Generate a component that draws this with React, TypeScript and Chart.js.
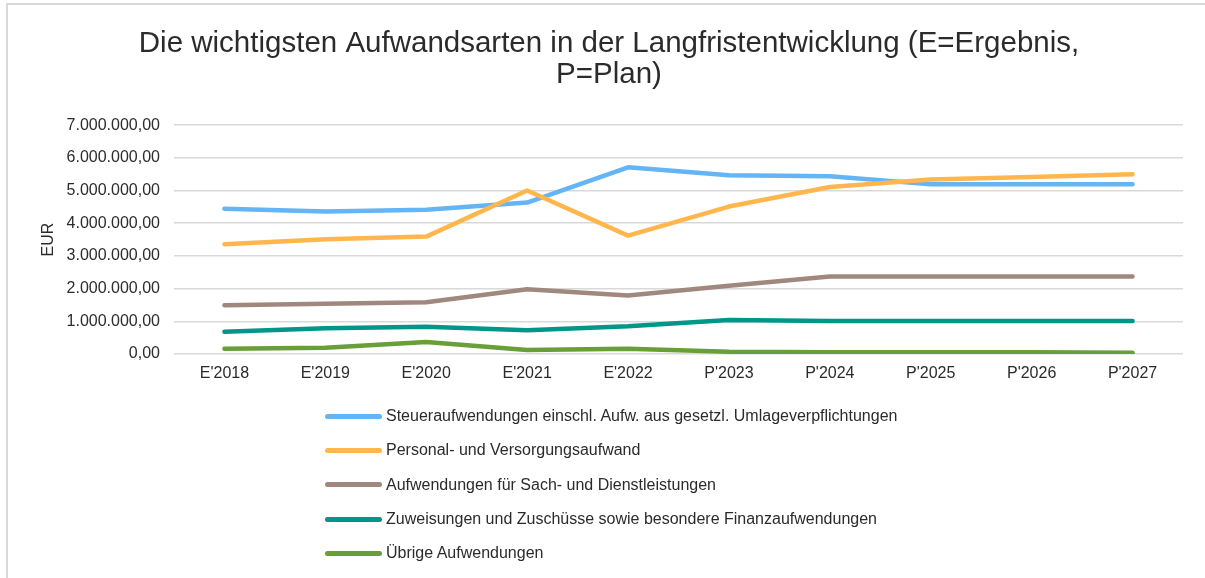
import React, { useEffect, useRef } from "react";
import { Chart, registerables } from "chart.js";

Chart.register(...registerables);

const categories = ["E'2018", "E'2019", "E'2020", "E'2021", "E'2022", "P'2023", "P'2024", "P'2025", "P'2026", "P'2027"];

const steuer = [4440000, 4360000, 4410000, 4630000, 5710000, 5470000, 5440000, 5190000, 5190000, 5190000];
const personal = [3360000, 3510000, 3590000, 5000000, 3620000, 4510000, 5110000, 5340000, 5410000, 5500000];
const sach = [1490000, 1540000, 1580000, 1980000, 1790000, 2090000, 2370000, 2370000, 2370000, 2370000];
const zuweisungen = [680000, 790000, 830000, 730000, 850000, 1040000, 1010000, 1010000, 1010000, 1010000];
const uebrige = [160000, 190000, 370000, 120000, 160000, 70000, 50000, 50000, 50000, 40000];

const seriesNames = [
  "Steueraufwendungen einschl. Aufw. aus gesetzl. Umlageverpflichtungen",
  "Personal- und Versorgungsaufwand",
  "Aufwendungen für Sach- und Dienstleistungen",
  "Zuweisungen und Zuschüsse sowie besondere Finanzaufwendungen",
  "Übrige Aufwendungen",
];
const seriesValues = [steuer, personal, sach, zuweisungen, uebrige];
const seriesColors = ["#64B5F6", "#FFB74D", "#A1887F", "#009688", "#689F38"];

const titleLines = ["Die wichtigsten Aufwandsarten in der Langfristentwicklung (E=Ergebnis,", "P=Plan)"];
const yAxisTitle = "EUR";

const FONT = "'Liberation Sans', Arial, sans-serif";
const TEXT = "#2b2b2b";

function formatDE(v: number): string {
  const fixed = Math.abs(v).toFixed(2);
  const [intPart, dec] = fixed.split(".");
  const withDots = intPart.replace(/\B(?=(\d{3})+(?!\d))/g, ".");
  return (v < 0 ? "-" : "") + withDots + "," + dec;
}

export default function App() {
  const canvasRef = useRef<HTMLCanvasElement | null>(null);

  useEffect(() => {
    const canvas = canvasRef.current;
    if (!canvas) return;
    const chart = new Chart(canvas, {
      type: "line",
      data: {
        labels: categories,
        datasets: seriesValues.map((vals, i) => ({
          label: seriesNames[i],
          data: vals,
          borderColor: seriesColors[i],
          backgroundColor: seriesColors[i],
          borderWidth: 4.5,
          borderCapStyle: "round" as const,
          borderJoinStyle: "round" as const,
          pointRadius: 0,
          pointHoverRadius: 0,
          tension: 0,
          fill: false,
          order: seriesValues.length - i,
        })),
      },
      options: {
        responsive: false,
        animation: false,
        devicePixelRatio: 1,
        layout: { padding: { left: 35, right: 22, top: 0, bottom: 184 } },
        plugins: {
          legend: { display: false },
          tooltip: { enabled: false },
          title: {
            display: true,
            text: titleLines,
            color: TEXT,
            font: { family: FONT, size: 29.5, weight: "normal", lineHeight: 1.07 },
            padding: { top: 28, bottom: 34 },
          },
        },
        scales: {
          x: {
            type: "category",
            offset: true,
            grid: { display: false, drawTicks: false },
            border: { display: false },
            ticks: {
              color: TEXT,
              font: { family: FONT, size: 16 },
              padding: 10,
              maxRotation: 0,
              autoSkip: false,
            },
            afterFit: (s: any) => {
              s.height = 40;
            },
          },
          y: {
            min: 0,
            max: 7000000,
            grid: { color: "#d9d9d9", lineWidth: 1.5, drawTicks: false },
            border: { display: false },
            ticks: {
              stepSize: 1000000,
              color: TEXT,
              font: { family: FONT, size: 16 },
              padding: 14,
              callback: (v: any) => formatDE(Number(v)),
            },
            title: {
              display: true,
              text: yAxisTitle,
              color: TEXT,
              font: { family: FONT, size: 16 },
            },
            afterFit: (s: any) => {
              s.width = 139;
            },
          },
        },
      },
    });
    return () => chart.destroy();
  }, []);

  return (
    <div style={{ position: "fixed", left: 0, top: 0, width: 1205, height: 578, overflow: "hidden", background: "#fff" }}>
      <div
        style={{
          position: "absolute",
          left: 6,
          top: 3,
          width: 1300,
          height: 700,
          border: "2px solid #d9d9d9",
          boxSizing: "border-box",
        }}
      />
      <canvas
        ref={canvasRef}
        width={1205}
        height={578}
        style={{ position: "absolute", left: 0, top: 0, width: 1205, height: 578 }}
      />
      <div style={{ position: "absolute", left: 325, top: 399, fontFamily: FONT, fontSize: 16, color: TEXT }}>
        {seriesNames.map((name, i) => (
          <div key={name} style={{ display: "flex", alignItems: "center", height: 34.3, whiteSpace: "nowrap" }}>
            <span
              style={{
                display: "inline-block",
                width: 57,
                height: 5,
                borderRadius: 3,
                background: seriesColors[i],
                marginRight: 4,
              }}
            />
            <span>{name}</span>
          </div>
        ))}
      </div>
    </div>
  );
}
